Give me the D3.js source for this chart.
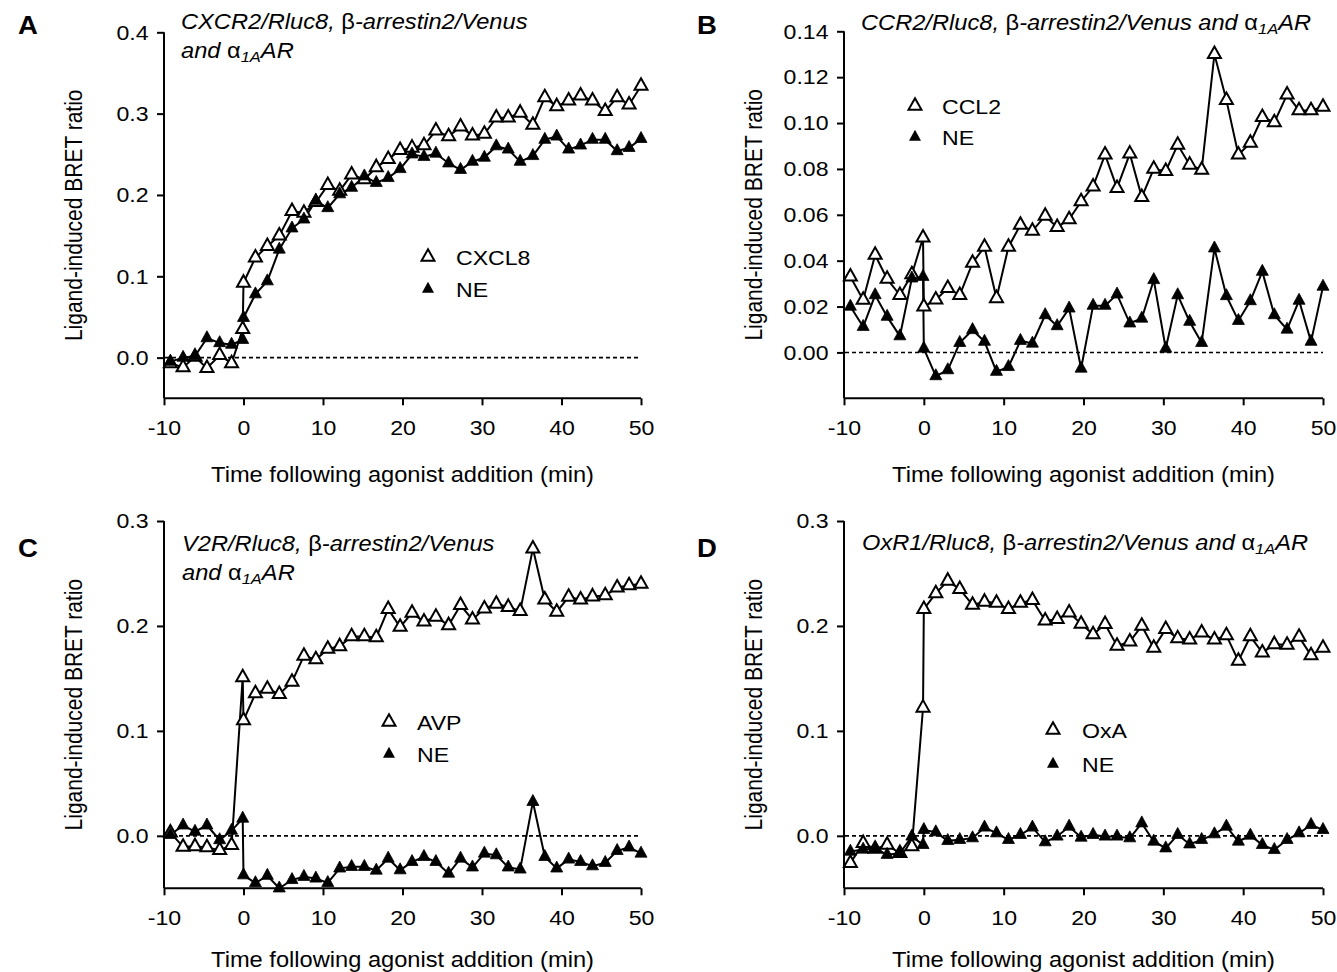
<!DOCTYPE html>
<html><head><meta charset="utf-8">
<script src="https://cdn.jsdelivr.net/npm/d3@7"></script>
<style>
body{margin:0;background:#fff;}
svg text{font-family:"Liberation Sans",Arial,Helvetica,sans-serif;fill:#000;}
</style></head><body>
<svg id="chart" width="1337" height="972"></svg>
<script>
// ---------------- DATA ----------------
const times = [-9.2,-7.6,-6.1,-4.6,-3.0,-1.5,-0.1,
  0,1.5,3.0,4.5,6.1,7.6,9.1,10.6,12.1,13.6,15.2,16.7,18.2,19.7,21.2,22.7,24.2,25.8,27.3,28.8,
  30.3,31.8,33.3,34.8,36.4,37.9,39.4,40.9,42.4,43.9,45.5,47.0,48.5,50.0];
const xTicks = [-10,0,10,20,30,40,50];

// Panel A
const cxcl8 = [-0.007,-0.012,0.001,-0.013,0.003,-0.007,0.035,
  0.092,0.123,0.137,0.150,0.180,0.178,0.191,0.212,0.205,0.225,0.219,0.234,0.244,0.255,0.258,0.261,0.279,0.272,0.284,0.273,
  0.275,0.295,0.295,0.301,0.286,0.320,0.309,0.316,0.322,0.316,0.303,0.320,0.311,0.334];
const neA = [-0.005,0.000,0.002,0.024,0.018,0.016,0.022,
  0.049,0.078,0.094,0.133,0.159,0.170,0.193,0.184,0.201,0.209,0.223,0.215,0.221,0.232,0.250,0.247,0.251,0.239,0.231,0.241,
  0.246,0.260,0.256,0.241,0.248,0.268,0.272,0.256,0.261,0.268,0.268,0.254,0.258,0.269];
const yTicksA = [0,0.1,0.2,0.3,0.4];

// Panel B
const ccl2 = [0.033,0.0229,0.0425,0.032,0.025,0.034,0.050,
  0.020,0.023,0.028,0.025,0.039,0.046,0.0236,0.046,0.0556,0.053,0.0595,0.0546,0.058,0.0658,0.0723,0.0862,0.0716,0.0866,0.0677,0.080,
  0.079,0.0905,0.0818,0.0796,0.130,0.110,0.0862,0.0913,0.1026,0.1003,0.1124,0.1055,0.1055,0.107];
const neB = [0.020,0.0112,0.025,0.0156,0.0071,0.0323,0.033,
  0.0017,-0.0103,-0.0077,0.0042,0.0098,0.0047,-0.0084,-0.0063,0.0051,0.0039,0.0163,0.0115,0.0192,-0.007,0.0204,0.0204,0.0253,0.0127,0.0148,0.0316,
  0.0017,0.025,0.0134,0.0042,0.0454,0.0246,0.0138,0.0224,0.0352,0.0163,0.010,0.0226,0.0047,0.0287];
const yTicksB = [0,0.02,0.04,0.06,0.08,0.10,0.12,0.14];

// Panel C
const avp = [0.003,-0.0105,-0.010,-0.011,-0.0137,-0.009,0.151,
  0.110,0.1356,0.140,0.135,0.1467,0.1714,0.168,0.178,0.1806,0.190,0.190,0.189,0.216,0.199,0.2124,0.204,0.2086,0.2006,0.2197,0.206,
  0.2165,0.221,0.218,0.214,0.2737,0.225,0.2133,0.2276,0.225,0.228,0.229,0.2365,0.2387,0.240];
const neC = [0.001,0.010,0.004,0.010,-0.004,0.005,0.0165,
  -0.0375,-0.045,-0.038,-0.050,-0.042,-0.039,-0.0406,-0.0448,-0.031,-0.0295,-0.0295,-0.033,-0.0216,-0.0327,-0.0248,-0.020,-0.0248,-0.0359,-0.0216,-0.030,
  -0.0168,-0.0184,-0.030,-0.032,0.0324,-0.020,-0.031,-0.0225,-0.0248,-0.0289,-0.0257,-0.0143,-0.011,-0.0168];
const yTicksC = [0,0.1,0.2,0.3];

// Panel D
const oxa = [-0.026,-0.007,-0.0124,-0.0086,-0.0166,-0.010,0.122,
  0.216,0.231,0.243,0.235,0.220,0.223,0.222,0.216,0.222,0.2245,0.205,0.2064,0.2127,0.202,0.192,0.2016,0.181,0.185,0.200,0.179,
  0.197,0.188,0.187,0.1936,0.187,0.191,0.1666,0.190,0.1745,0.1825,0.182,0.1895,0.172,0.179];
const neD = [-0.015,-0.013,-0.012,-0.018,-0.0166,-0.0006,-0.0086,
  0.0057,0.0035,-0.0048,-0.0038,-0.0022,0.008,0.0025,-0.0038,0.001,0.008,-0.006,-0.0006,0.0089,-0.0016,0.001,-0.0006,-0.0006,-0.0022,0.012,-0.0054,
  -0.0118,0.001,-0.008,-0.0038,0.0016,0.0089,-0.0054,0.0003,-0.0086,-0.0134,-0.0038,0.0025,0.0105,0.0057];
const yTicksD = [0,0.1,0.2,0.3];

const xLabel = "Time following agonist addition (min)";
const yLabel = "Ligand-induced BRET ratio";

// ---------------- LAYOUT ----------------
const SX = 1.1; // horizontal text stretch of the reference
const panels = [
  {letter:"A", lx:18, ly:34, x0:164, x1:641, yt:32.3, yb:398.3, xlY:482, ydom:[-0.05,0.4], yticks:yTicksA, fmt:d3.format(".1f"),
   title:[{x:181, y:29, parts:[["CXCR2/Rluc8, ","i"],["β","n"],["-arrestin2/Venus","i"]]},
          {x:181, y:58, parts:[["and ","i"],["α","n"],["1A","s"],["AR","i"]]}],
   leg:{x:428, y:257, dy:32, tx:456}, names:["CXCL8","NE"], s1:cxcl8, s2:neA},
  {letter:"B", lx:697, ly:34, x0:844, x1:1323, yt:31.3, yb:398.3, xlY:482, ydom:[-0.02,0.14], yticks:yTicksB, fmt:d3.format(".2f"),
   title:[{x:861, y:30, parts:[["CCR2/Rluc8, ","i"],["β","n"],["-arrestin2/Venus and ","i"],["α","n"],["1A","s"],["AR","i"]]}],
   leg:{x:915, y:106, dy:31, tx:942}, names:["CCL2","NE"], s1:ccl2, s2:neB},
  {letter:"C", lx:18, ly:557, x0:164, x1:641, yt:521, yb:888.3, xlY:967, ydom:[-0.05,0.3], yticks:yTicksC, fmt:d3.format(".1f"),
   title:[{x:182, y:551, parts:[["V2R/Rluc8, ","i"],["β","n"],["-arrestin2/Venus","i"]]},
          {x:182, y:580, parts:[["and ","i"],["α","n"],["1A","s"],["AR","i"]]}],
   leg:{x:389, y:722, dy:32, tx:417}, names:["AVP","NE"], s1:avp, s2:neC},
  {letter:"D", lx:697, ly:557, x0:844, x1:1323, yt:521, yb:888.3, xlY:967, ydom:[-0.05,0.3], yticks:yTicksD, fmt:d3.format(".1f"),
   title:[{x:862, y:550, parts:[["OxR1/Rluc8, ","i"],["β","n"],["-arrestin2/Venus and ","i"],["α","n"],["1A","s"],["AR","i"]]}],
   leg:{x:1053, y:730, dy:34, tx:1082}, names:["OxA","NE"], s1:oxa, s2:neD}
];

const svg = d3.select("#chart");
const triPath = (w,h) => `M0,${-2*h/3}L${w/2},${h/3}L${-w/2},${h/3}Z`;
const openTri = triPath(13,11.5), fillTri = triPath(12,11);
const htext = (g,x,y) => g.append("text").attr("transform",`translate(${x},${y}) scale(${SX},1)`);

panels.forEach(p => {
  const g = svg.append("g");
  const x = d3.scaleLinear().domain([-10,50]).range([p.x0,p.x1]);
  const y = d3.scaleLinear().domain(p.ydom).range([p.yb,p.yt]);

  // axes
  const xa = g.append("g").attr("transform",`translate(0,${p.yb})`)
    .call(d3.axisBottom(x).tickValues(xTicks).tickSize(7).tickSizeOuter(0).tickPadding(15).tickFormat(d=>String(d)));
  const ya = g.append("g").attr("transform",`translate(${p.x0},0)`)
    .call(d3.axisLeft(y).tickValues(p.yticks).tickSize(7).tickSizeOuter(0).tickPadding(8.5).tickFormat(p.fmt));
  [xa,ya].forEach(a=>{
    a.attr("font-size",21).attr("font-family",'"Liberation Sans",Arial,sans-serif');
    a.select(".domain").attr("stroke","#000").attr("stroke-width",2);
    a.selectAll(".tick line").attr("stroke","#000").attr("stroke-width",2);
    a.selectAll(".tick text").attr("fill","#000");
  });
  xa.selectAll(".tick text").attr("transform",`scale(${SX},1)`);
  ya.selectAll(".tick text").attr("x",-(7+8.5)/SX).attr("transform",`scale(${SX},1)`);
  ya.select(".domain").attr("d",`M0,${p.yb}V${p.yt}`);
  xa.select(".domain").attr("d",`M${p.x0},0H${p.x1}`);

  // zero dashed line
  g.append("line").attr("x1",x(-10)+1).attr("x2",x(50)).attr("y1",y(0)).attr("y2",y(0))
    .attr("stroke","#000").attr("stroke-width",1.6).attr("stroke-dasharray","4,3");

  const line = d3.line().x((d,i)=>x(times[i])).y(d=>y(d));
  g.append("path").attr("d",line(p.s1)).attr("fill","none").attr("stroke","#000").attr("stroke-width",2);
  g.append("path").attr("d",line(p.s2)).attr("fill","none").attr("stroke","#000").attr("stroke-width",2);

  g.selectAll(".o").data(p.s1).join("path").attr("class","o")
    .attr("transform",(d,i)=>`translate(${x(times[i])},${y(d)})`)
    .attr("d",openTri).attr("fill","#fff").attr("stroke","#000").attr("stroke-width",2);
  g.selectAll(".f").data(p.s2).join("path").attr("class","f")
    .attr("transform",(d,i)=>`translate(${x(times[i])},${y(d)})`)
    .attr("d",fillTri).attr("fill","#000").attr("stroke","#000").attr("stroke-width",0.8);

  // panel letter
  htext(g,p.lx,p.ly).attr("font-size",25).attr("font-weight","bold").text(p.letter);

  // title
  p.title.forEach(t=>{
    const tx = htext(g,t.x,t.y).attr("font-size",21.5);
    t.parts.forEach(([s,k])=>{
      const ts = tx.append("tspan").text(s);
      if(k==="i") ts.attr("font-style","italic");
      if(k==="n") ts.attr("font-style","normal");
      if(k==="s") ts.attr("font-style","italic").attr("font-size",15).attr("baseline-shift","-25%");
    });
  });

  // legend
  g.append("path").attr("transform",`translate(${p.leg.x},${p.leg.y})`).attr("d",openTri)
    .attr("fill","#fff").attr("stroke","#000").attr("stroke-width",2);
  g.append("path").attr("transform",`translate(${p.leg.x},${p.leg.y+p.leg.dy})`).attr("d",fillTri)
    .attr("fill","#000");
  htext(g,p.leg.tx,p.leg.y).attr("dy","0.36em").attr("font-size",21).text(p.names[0]);
  htext(g,p.leg.tx,p.leg.y+p.leg.dy).attr("dy","0.36em").attr("font-size",21).text(p.names[1]);

  // axis labels
  htext(g,(p.x0+p.x1)/2,p.xlY).attr("text-anchor","middle").attr("font-size",21.5).text(xLabel);
  g.append("text").attr("transform",`translate(${p.x0-82},${(p.yt+p.yb)/2}) rotate(-90) scale(1,${SX})`)
    .attr("text-anchor","middle").attr("font-size",21).text(yLabel);
});
</script>
</body></html>
